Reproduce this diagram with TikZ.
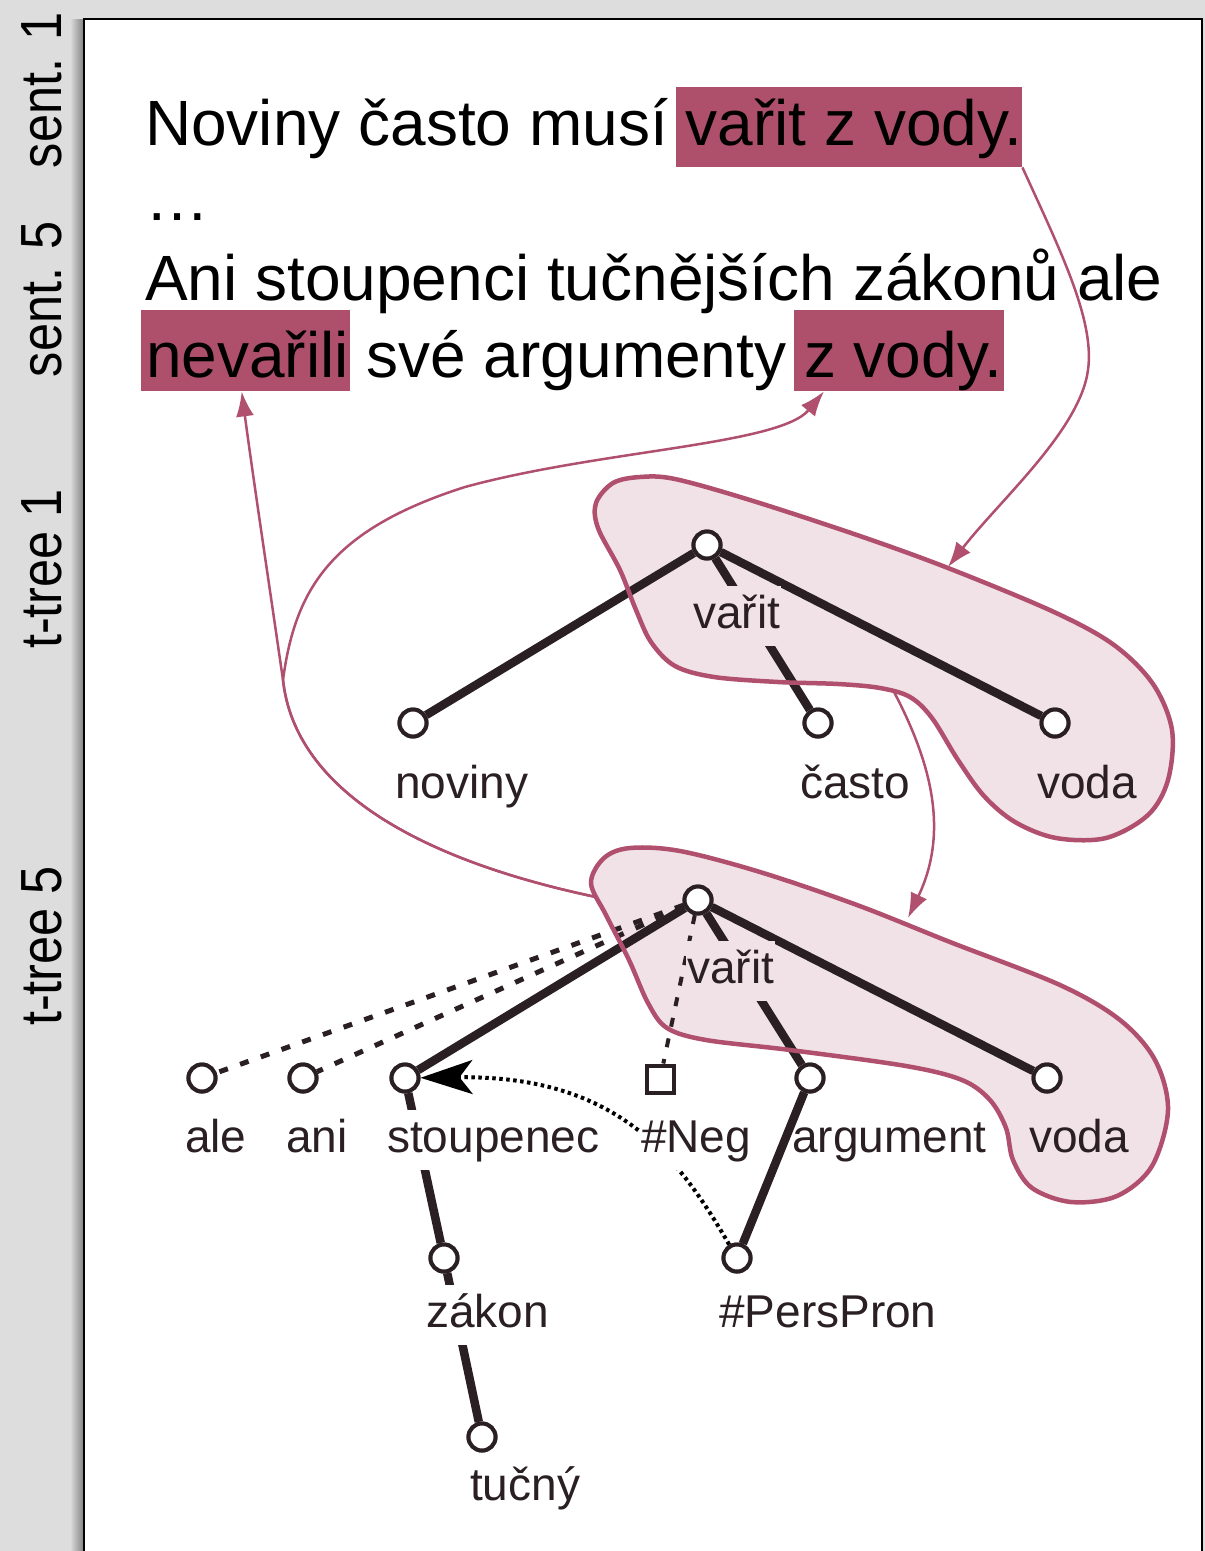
\documentclass[tikz,border=0pt]{standalone}
\usepackage{fontspec}
\usepackage{graphicx}
\setmainfont{Liberation Sans}
\usetikzlibrary{arrows.meta}
\definecolor{bggray}{RGB}{221,221,221}
\definecolor{hlcol}{RGB}{174,80,107}
\definecolor{blobline}{RGB}{176,80,110}
\definecolor{blobfill}{RGB}{241,226,231}
\definecolor{edgecol}{RGB}{42,31,35}
\newcommand{\sentfont}{\fontsize{64}{70}\selectfont}
\newcommand{\lblfont}{\fontsize{46}{52}\selectfont}
\newcommand{\vfont}{\fontsize{58}{64}\selectfont}
\tikzset{
  tn/.style={circle, draw=edgecol, line width=4pt, fill=white, minimum size=27pt, inner sep=0pt},
  negsq/.style={rectangle, draw=edgecol, line width=4pt, fill=white, minimum size=27pt, inner sep=0pt},
  lbl/.style={anchor=base west, font=\lblfont, text=edgecol, fill=white, inner xsep=1pt, inner ysep=6pt, text height=36pt, text depth=12pt},
  lblpink/.style={lbl, fill=blobfill},
  tedge/.style={draw=edgecol, line width=8.5pt},
  dashedge/.style={draw=edgecol, line width=5pt, dash pattern=on 9pt off 13pt},
  negedge/.style={draw=edgecol, line width=4pt, dash pattern=on 9pt off 12pt},
  coref/.style={draw=black, line width=4pt, dash pattern=on 3.5pt off 3.5pt, -{Stealth[length=52pt,width=34pt,inset=13pt]}},
  parr/.style={draw=blobline, line width=2.5pt, -{Latex[length=25pt,width=18pt]}},
  hl/.style={fill=hlcol, inner sep=0pt, anchor=north west},
  sent/.style={anchor=base west, font=\sentfont, inner sep=0pt},
  vlab/.style={rotate=90, anchor=base, font=\vfont},
  blobstyle/.style={draw=blobline, line width=4.5pt, fill=blobfill}
}
\begin{document}
\begin{tikzpicture}[x=1pt,y=-1pt]
\useasboundingbox (0,0) rectangle (1205,1551);
\clip (0,0) rectangle (1205,1551);
\fill[bggray] (0,0) rectangle (1205,1551);
\shade[left color=bggray, right color=black!50] (70,19) rectangle (84,1551);
\draw[fill=white, line width=2.5pt] (84,19) rectangle (1202,1570);

% side labels
\node[vlab] (vs1) at (61,90) {\scalebox{0.87}[1]{sent. 1}};
\node[vlab] (vs5) at (61,299) {\scalebox{0.87}[1]{sent. 5}};
\node[vlab] (vt1) at (61,569) {\scalebox{0.87}[1]{t-tree 1}};
\node[vlab] (vt5) at (61,946) {\scalebox{0.87}[1]{t-tree 5}};

% highlights
\node[hl, minimum width=346pt, minimum height=80pt] (hl1) at (676,87) {};
\node[hl, minimum width=209pt, minimum height=81pt] (hl2) at (141,310) {};
\node[hl, minimum width=210pt, minimum height=81pt] (hl3) at (794,310) {};

% sentences
\node[sent] (l1) at (145,145) {Noviny často musí vařit z vody.};
\node[sent] (l2) at (145,220) {…};
\node[sent] (l3) at (145,300) {Ani stoupenci tučnějších zákonů ale};
\node[sent] (l4) at (146,377) {nevařili své argumenty z vody.};

% blob fills
\path[fill=blobfill] plot[smooth cycle, tension=0.55] coordinates {
 (596,503) (613,483) (640,477) (675,479) (750,500) (857,535) (948,568)
 (1054,612) (1114,645) (1153,684) (1172,730) (1168,780) (1148,815) (1106,838)
 (1056,838) (1015,822) (984,796) (958,760) (932,718) (910,697) (880,688)
 (838,684) (778,682) (714,677) (675,666) (651,642) (636,610) (620,570) (598,528)};
\path[fill=blobfill] plot[smooth cycle, tension=0.55] coordinates {
 (591,883) (604,858) (630,848) (680,851) (760,872) (857,905) (950,942)
 (1060,985) (1120,1020) (1155,1060) (1168,1110) (1152,1166) (1117,1196) (1071,1202)
 (1032,1188) (1013,1160) (1006,1128) (990,1100) (962,1080) (906,1066) (790,1050)
 (706,1040) (667,1028) (648,1003) (629,960) (606,915)};

% tree 1 nodes
\node[tn] (v1) at (707,545) {};
\node[tn] (nov) at (413,723) {};
\node[tn] (cas) at (818,723) {};
\node[tn] (vod1) at (1055,723) {};
% tree 5 nodes
\node[tn] (v5) at (698,900) {};
\node[tn] (ale) at (202,1078) {};
\node[tn] (ani) at (303,1078) {};
\node[tn] (st) at (405,1078) {};
\node[negsq] (neg) at (660,1079) {};
\node[tn] (arg) at (810,1078) {};
\node[tn] (vod5) at (1047,1078) {};
\node[tn] (zak) at (444,1258) {};
\node[tn] (pp) at (737,1258) {};
\node[tn] (tuc) at (482,1437) {};

% edges
\draw[tedge] (v1) -- (nov);
\draw[tedge] (v1) -- (cas);
\draw[tedge] (v1) -- (vod1);
\draw[dashedge] (v5) -- (ale);
\draw[dashedge] (v5) -- (ani);
\draw[negedge] (v5) -- (neg);
\draw[tedge] (v5) -- (st);
\draw[tedge] (v5) -- (arg);
\draw[tedge] (v5) -- (vod5);
\draw[tedge] (st) -- (zak);
\draw[tedge] (zak) -- (tuc);
\draw[tedge] (arg) -- (pp);

% coreference
\draw[coref] (pp) .. controls (680,1160) and (620,1075) .. (st);

% labels
\node[lblpink] (lv1) at (692,628) {vařit};
\node[lbl] (lnov) at (394,798) {noviny};
\node[lbl] (lcas) at (799,798) {často};
\node[lblpink] (lvod1) at (1036,798) {voda};
\node[lblpink] (lv5) at (686,983) {vařit};
\node[lbl] (lale) at (184,1152) {ale};
\node[lbl] (lani) at (285,1152) {ani};
\node[lbl] (lst) at (386,1152) {stoupenec};
\node[lbl] (lneg) at (640,1152) {\#Neg};
\node[lbl, fill=none] (larg) at (791,1152) {argument};
\node[lblpink] (lvod5) at (1028,1152) {voda};
\node[lbl] (lzak) at (425,1327) {zákon};
\node[lbl] (lpp) at (718,1327) {\#PersPron};
\node[lbl] (ltuc) at (469,1500) {tučný};

% blob outlines
\draw[blobline, line width=4.5pt] plot[smooth cycle, tension=0.55] coordinates {
 (596,503) (613,483) (640,477) (675,479) (750,500) (857,535) (948,568)
 (1054,612) (1114,645) (1153,684) (1172,730) (1168,780) (1148,815) (1106,838)
 (1056,838) (1015,822) (984,796) (958,760) (932,718) (910,697) (880,688)
 (838,684) (778,682) (714,677) (675,666) (651,642) (636,610) (620,570) (598,528)};
\draw[blobline, line width=4.5pt] plot[smooth cycle, tension=0.55] coordinates {
 (591,883) (604,858) (630,848) (680,851) (760,872) (857,905) (950,942)
 (1060,985) (1120,1020) (1155,1060) (1168,1110) (1152,1166) (1117,1196) (1071,1202)
 (1032,1188) (1013,1160) (1006,1128) (990,1100) (962,1080) (906,1066) (790,1050)
 (706,1040) (667,1028) (648,1003) (629,960) (606,915)};

% redraw circles on top
\foreach \n in {v1,nov,cas,vod1,v5,ale,ani,st,arg,vod5,zak,pp,tuc}{
  \draw[edgecol, line width=4pt, fill=white] (\n) circle (13.5pt);
}
\draw[edgecol, line width=4pt, fill=white] ([shift={(2pt,2pt)}]neg.south west) rectangle ([shift={(-2pt,-2pt)}]neg.north east);

% alignment arrows
\coordinate (b1in) at (948,567);
\coordinate (b1out) at (893,690);
\coordinate (b2in) at (908,918);
\coordinate (b2out) at (596,897);
\coordinate (br) at (283,680);
\draw[parr] (hl1.south east) .. controls (1060,250) and (1095,320) .. (1088,370)
  .. controls (1080,430) and (1000,500) .. (b1in);
\draw[parr] (b1out) .. controls (930,760) and (950,830) .. (b2in);
\draw[parr] (b2out) .. controls (420,860) and (295,790) .. (br)
  .. controls (270,590) and (252,470) .. ([xshift=-4pt]hl2.south);
\draw[parr] (b2out) .. controls (420,860) and (295,790) .. (br)
  .. controls (295,590) and (330,530) .. (465,487)
  .. controls (600,450) and (780,445) .. ([xshift=30pt]hl3.south west);
\end{tikzpicture}
\end{document}
